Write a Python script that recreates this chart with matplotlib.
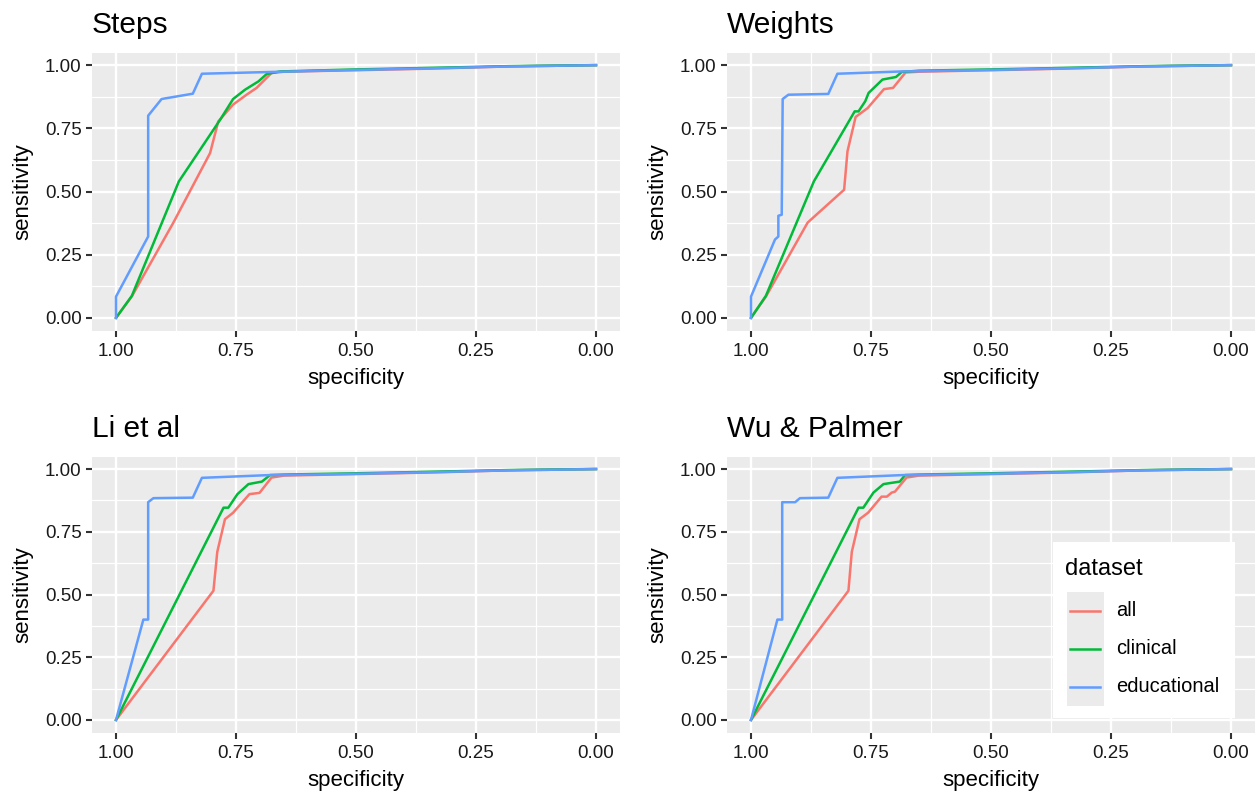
import numpy as np
import matplotlib
matplotlib.use('Agg')
import matplotlib.pyplot as plt
from matplotlib.lines import Line2D
from matplotlib.patches import Rectangle

plt.rcParams['font.family'] = ['Liberation Sans', 'DejaVu Sans']

# ROC points: (specificity, sensitivity)
tail_spec = [0.65, 0.50, 0.35, 0.18, 0.10, 0.0]
tail_all = [0.974, 0.980, 0.986, 0.995, 0.997, 1.0]
tail_cli = [0.978, 0.983, 0.989, 0.996, 0.998, 1.0]
tail_edu = [0.976, 0.981, 0.987, 0.995, 0.997, 1.0]

steps_all_spec = [1.0, 0.967, 0.881, 0.804, 0.787, 0.756, 0.728, 0.707, 0.676] + tail_spec
steps_all_sens = [0.0, 0.085, 0.375, 0.652, 0.777, 0.844, 0.883, 0.910, 0.969] + tail_all
steps_cli_spec = [1.0, 0.967, 0.869, 0.783, 0.756, 0.731, 0.703, 0.686, 0.658] + tail_spec[1:]
steps_cli_sens = [0.0, 0.087, 0.540, 0.784, 0.866, 0.903, 0.936, 0.965, 0.975] + tail_cli[1:]
steps_edu_spec = [1.0, 1.0, 0.933, 0.933, 0.905, 0.840, 0.821, 0.676] + tail_spec[1:]
steps_edu_sens = [0.0, 0.084, 0.322, 0.800, 0.866, 0.887, 0.966, 0.973] + tail_edu[1:]

wts_all_spec = [1.0, 0.969, 0.882, 0.806, 0.799, 0.782, 0.757, 0.723, 0.704, 0.678] + tail_spec
wts_all_sens = [0.0, 0.084, 0.377, 0.507, 0.659, 0.795, 0.830, 0.905, 0.910, 0.971] + tail_all
wts_cli_spec = [1.0, 0.969, 0.869, 0.784, 0.776, 0.762, 0.755, 0.726, 0.698, 0.686] + tail_spec
wts_cli_sens = [0.0, 0.087, 0.540, 0.817, 0.817, 0.857, 0.890, 0.943, 0.953, 0.973] + tail_cli
wts_edu_spec = [1.0, 1.0, 0.950, 0.943, 0.943, 0.936, 0.934, 0.922, 0.839, 0.820, 0.686] + tail_spec
wts_edu_sens = [0.0, 0.084, 0.310, 0.322, 0.404, 0.408, 0.866, 0.883, 0.886, 0.966, 0.975] + tail_edu

li_all_spec = [1.0, 0.797, 0.789, 0.773, 0.756, 0.722, 0.701, 0.676] + tail_spec
li_all_sens = [0.0, 0.515, 0.670, 0.800, 0.826, 0.900, 0.905, 0.966] + tail_all
li_cli_spec = [1.0, 0.776, 0.766, 0.747, 0.724, 0.696, 0.679] + tail_spec
li_cli_sens = [0.0, 0.846, 0.846, 0.900, 0.940, 0.950, 0.976] + tail_cli
li_edu_spec = [1.0, 0.943, 0.933, 0.933, 0.922, 0.840, 0.821, 0.679] + tail_spec
li_edu_sens = [0.0, 0.400, 0.400, 0.868, 0.884, 0.886, 0.965, 0.976] + tail_edu

wp_all_spec = [1.0, 0.797, 0.790, 0.774, 0.756, 0.728, 0.717, 0.707, 0.700, 0.676] + tail_spec
wp_all_sens = [0.0, 0.515, 0.670, 0.800, 0.826, 0.890, 0.890, 0.906, 0.910, 0.966] + tail_all
wp_cli_spec = [1.0, 0.776, 0.766, 0.745, 0.724, 0.690, 0.679] + tail_spec
wp_cli_sens = [0.0, 0.846, 0.846, 0.906, 0.940, 0.950, 0.976] + tail_cli
wp_edu_spec = [1.0, 0.945, 0.935, 0.935, 0.908, 0.898, 0.839, 0.820, 0.683] + tail_spec
wp_edu_sens = [0.0, 0.400, 0.400, 0.868, 0.868, 0.884, 0.886, 0.965, 0.976] + tail_edu

titles = ['Steps', 'Weights', 'Li et al', 'Wu & Palmer']
datasets = ['all', 'clinical', 'educational']
colors = ['#F8766D', '#00BA38', '#619CFF']
panels = [
    [(steps_all_spec, steps_all_sens), (steps_cli_spec, steps_cli_sens), (steps_edu_spec, steps_edu_sens)],
    [(wts_all_spec, wts_all_sens), (wts_cli_spec, wts_cli_sens), (wts_edu_spec, wts_edu_sens)],
    [(li_all_spec, li_all_sens), (li_cli_spec, li_cli_sens), (li_edu_spec, li_edu_sens)],
    [(wp_all_spec, wp_all_sens), (wp_cli_spec, wp_cli_sens), (wp_edu_spec, wp_edu_sens)],
]
ticks = [1.0, 0.75, 0.5, 0.25, 0.0]
tick_labels = ['1.00', '0.75', '0.50', '0.25', '0.00']

W, H = 1257, 795
fig = plt.figure(figsize=(W / 100, H / 100), dpi=100)

# axes boxes in pixels: left, top, right, bottom
boxes = [(92, 52.5, 620, 330.5), (727, 52.5, 1255, 330.5),
         (92, 456.5, 620, 732.5), (727, 456.5, 1255, 732.5)]

for i, (l, t, r, b) in enumerate(boxes):
    ax = fig.add_axes([l / W, 1 - b / H, (r - l) / W, (b - t) / H])
    ax.set_facecolor('#EBEBEB')
    for s in ax.spines.values():
        s.set_visible(False)
    for j, (sp, se) in enumerate(panels[i]):
        ax.plot(sp, se, color=colors[j], lw=1.8, zorder=3)
    ax.set_xlim(1.05, -0.05)
    ax.set_ylim(-0.05, 1.05)
    ax.set_xticks(ticks)
    ax.set_xticklabels(tick_labels)
    ax.set_yticks(ticks)
    ax.set_yticklabels(tick_labels)
    ax.set_xticks([0.875, 0.625, 0.375, 0.125], minor=True)
    ax.set_yticks([0.875, 0.625, 0.375, 0.125], minor=True)
    ax.grid(which='major', color='white', lw=1.7)
    ax.grid(which='minor', color='white', lw=0.9)
    ax.set_axisbelow(True)
    ax.tick_params(which='major', length=4.5, width=1.5, color='#333333',
                   labelsize=13.5, labelcolor='#1a1a1a', pad=3)
    ax.tick_params(axis='x', which='major', pad=4.5)
    ax.tick_params(which='minor', length=0)
    ax.set_xlabel('specificity', fontsize=16, labelpad=6)
    ax.set_ylabel('sensitivity', fontsize=16, labelpad=8)
    ax.set_title(titles[i], loc='left', fontsize=21.5, pad=14)

# legend inside the bottom-right panel
def fx(px):
    return px / W

def fy(py):
    return 1 - py / H

fig.patches.append(Rectangle((fx(1053), fy(718)), fx(1235) - fx(1053), fy(542) - fy(718),
                             transform=fig.transFigure, facecolor='white', edgecolor='none', zorder=5))
fig.patches.append(Rectangle((fx(1067), fy(706)), fx(1104) - fx(1067), fy(592) - fy(706),
                             transform=fig.transFigure, facecolor='#EBEBEB', edgecolor='none', zorder=6))
fig.text(fx(1065), fy(569), 'dataset', fontsize=17, va='center', ha='left', zorder=7)
for k, name in enumerate(datasets):
    yy = fy(611 + k * 38)
    fig.lines.append(Line2D([fx(1070), fx(1100)], [yy, yy], transform=fig.transFigure,
                            color=colors[k], lw=1.8, zorder=7))
    fig.text(fx(1116), yy, name, fontsize=14.5, va='center', ha='left', zorder=7)

fig.savefig('out.png', dpi=100)
